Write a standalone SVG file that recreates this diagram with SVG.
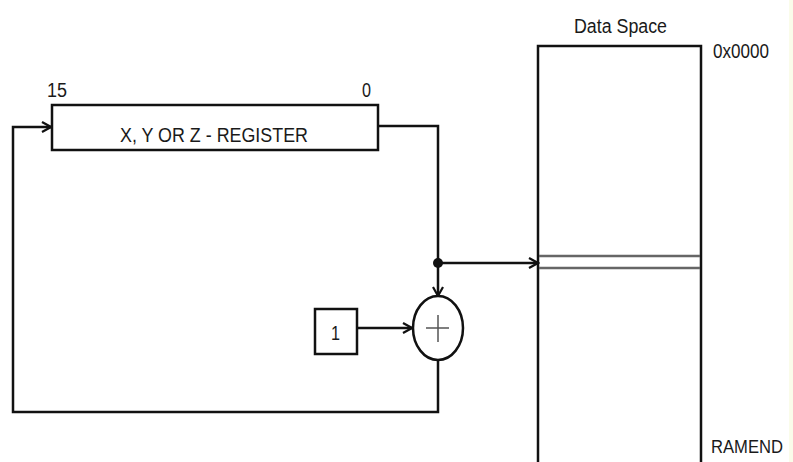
<svg xmlns="http://www.w3.org/2000/svg" width="793" height="462" viewBox="0 0 793 462">
<style>
.ln{fill:none;stroke:#111;stroke-width:2.5}
.bx{fill:#fff;stroke:#111;stroke-width:2.5}
.t{font-family:"Liberation Sans",Arial,sans-serif;font-size:19.5px;fill:#1a1a1a}
</style>
<defs>
<marker id="ah" markerWidth="12" markerHeight="12" refX="10" refY="6" orient="auto" markerUnits="userSpaceOnUse">
<path d="M1,1 L10,6 L1,11" fill="none" stroke="#111" stroke-width="2.2"/>
</marker>
</defs>
<rect x="0" y="0" width="793" height="462" fill="#fff"/>
<rect x="789" y="0" width="4" height="462" fill="#fafcea"/>
<g id="connectors">
<path class="ln" d="M378,126 H438 V263"/>
<path class="ln" d="M438,263 V296" marker-end="url(#ah)"/>
<path class="ln" d="M438,263 H538" marker-end="url(#ah)"/>
<path class="ln" d="M357,328 H412" marker-end="url(#ah)"/>
<path class="ln" d="M438,360 V412 H13 V127 H51" marker-end="url(#ah)"/>
<circle cx="438" cy="263" r="5" fill="#111"/>
</g>
<g id="register">
<rect class="bx" x="52" y="105" width="326" height="45"/>
<text class="t" x="120" y="142" textLength="188" lengthAdjust="spacingAndGlyphs">X, Y OR Z - REGISTER</text>
<text class="t" x="47" y="97" textLength="20" lengthAdjust="spacingAndGlyphs">15</text>
<text class="t" x="362" y="97" textLength="9" lengthAdjust="spacingAndGlyphs">0</text>
</g>
<g id="adder">
<ellipse class="bx" cx="438" cy="328" rx="25" ry="32"/>
<path d="M438,315 V342 M426,328 H449" stroke="#555" stroke-width="1.5"/>
</g>
<g id="one">
<rect class="bx" x="315" y="309" width="42" height="45"/>
<text class="t" x="331" y="340" textLength="9" lengthAdjust="spacingAndGlyphs" fill="#1a8ab0">1</text>
</g>
<g id="dataspace">
<path class="ln" d="M538,470 V46 H701 V470"/>
<path d="M539,256 H700 M539,268 H700" stroke="#666" stroke-width="2.5"/>
<text class="t" x="574" y="33" textLength="93" lengthAdjust="spacingAndGlyphs">Data Space</text>
<text class="t" x="713" y="58" textLength="56" lengthAdjust="spacingAndGlyphs">0x0000</text>
<text class="t" x="711" y="453" style="font-size:18px" textLength="72" lengthAdjust="spacingAndGlyphs">RAMEND</text>
</g>
</svg>
